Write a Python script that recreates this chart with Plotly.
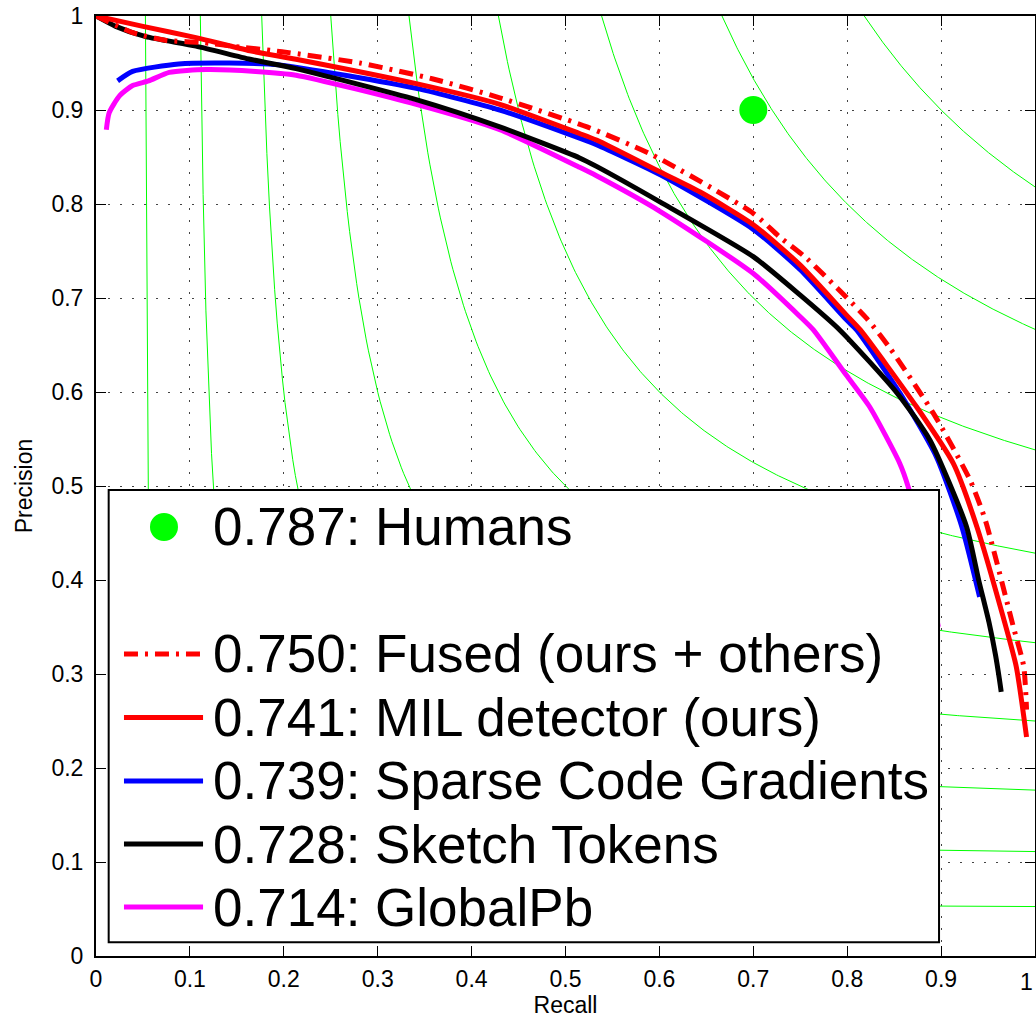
import numpy as np
import plotly.graph_objects as go

# ---------------- data ----------------
iso_f_levels = [0.1, 0.2, 0.3, 0.4, 0.5, 0.6, 0.7, 0.8, 0.9]

tick_values = [0, 0.1, 0.2, 0.3, 0.4, 0.5, 0.6, 0.7, 0.8, 0.9, 1]
tick_labels = ["0", "0.1", "0.2", "0.3", "0.4", "0.5", "0.6", "0.7", "0.8", "0.9", "1"]

human_recall = [0.70]
human_precision = [0.90]

recall_fused = [0.0, 0.04, 0.075, 0.111, 0.153, 0.198, 0.281, 0.359, 0.43, 0.523, 0.593,
                0.70, 0.728, 0.757, 0.821, 0.846, 0.892, 0.931, 0.947, 0.977, 0.988, 0.991]
precision_fused = [1.0, 0.982, 0.974, 0.972, 0.967, 0.962, 0.950, 0.933, 0.913, 0.882, 0.852,
                   0.790, 0.765, 0.742, 0.678, 0.646, 0.577, 0.506, 0.464, 0.350, 0.308, 0.262]

recall_mil = [0.0, 0.05, 0.1065, 0.164, 0.213, 0.341, 0.43, 0.515, 0.533, 0.601, 0.643,
              0.70, 0.75, 0.799, 0.814, 0.874, 0.913, 0.938, 0.966, 0.98, 0.991]
precision_mil = [1.0, 0.989, 0.977, 0.963, 0.954, 0.928, 0.906, 0.875, 0.868, 0.834, 0.813,
                 0.778, 0.735, 0.682, 0.666, 0.584, 0.524, 0.457, 0.361, 0.308, 0.233]

recall_scg = [0.023, 0.039, 0.088, 0.142, 0.195, 0.341, 0.43, 0.515, 0.533, 0.601,
              0.70, 0.75, 0.799, 0.81, 0.856, 0.895, 0.922, 0.941]
precision_scg = [0.931, 0.941, 0.949, 0.950, 0.948, 0.923, 0.900, 0.870, 0.863, 0.831,
                 0.773, 0.730, 0.677, 0.666, 0.599, 0.531, 0.457, 0.382]

recall_st = [0.0, 0.021, 0.053, 0.1065, 0.164, 0.213, 0.341, 0.43, 0.515, 0.533, 0.601,
             0.70, 0.75, 0.792, 0.853, 0.888, 0.927, 0.940, 0.951, 0.958, 0.962, 0.964]
precision_st = [1.0, 0.989, 0.978, 0.968, 0.954, 0.944, 0.911, 0.882, 0.849, 0.840, 0.802,
                0.744, 0.703, 0.666, 0.599, 0.549, 0.457, 0.400, 0.355, 0.320, 0.295, 0.281]

recall_gpb = [0.011, 0.014, 0.025, 0.039, 0.056, 0.078, 0.117, 0.17, 0.213, 0.341, 0.43,
              0.515, 0.533, 0.601, 0.70, 0.75, 0.764, 0.799, 0.824, 0.856, 0.865, 0.88, 0.897]
precision_gpb = [0.879, 0.897, 0.915, 0.926, 0.931, 0.940, 0.943, 0.941, 0.937, 0.906, 0.879,
                 0.839, 0.830, 0.792, 0.726, 0.680, 0.666, 0.618, 0.584, 0.524, 0.499, 0.44, 0.35]

legend_labels = ["0.787: Humans",
                 "0.750: Fused (ours + others)",
                 "0.741: MIL detector (ours)",
                 "0.739: Sparse Code Gradients",
                 "0.728: Sketch Tokens",
                 "0.714: GlobalPb"]

GREEN = "#00ff00"
FONT = "Liberation Sans, Arial, Helvetica, sans-serif"
FUSED_DASH = "14px,7px,3px,7px"

fig = go.Figure()

# iso-F contours
for f in iso_f_levels:
    r = np.linspace(f / (2 - f), 1.0, 300)
    p = f * r / (2 * r - f)
    fig.add_trace(go.Scatter(x=r, y=p, mode="lines", line=dict(color=GREEN, width=1),
                             hoverinfo="skip", showlegend=False))

series = [
    (recall_gpb, precision_gpb, "#ff00ff", 5, "solid", legend_labels[5]),
    (recall_scg, precision_scg, "#0000ff", 5, "solid", legend_labels[3]),
    (recall_st, precision_st, "#000000", 5, "solid", legend_labels[4]),
    (recall_mil, precision_mil, "#ff0000", 5, "solid", legend_labels[2]),
    (recall_fused, precision_fused, "#ff0000", 5, FUSED_DASH, legend_labels[1]),
]
for rx, py, col, w, dash, name in series:
    fig.add_trace(go.Scatter(x=rx, y=py, mode="lines", name=name,
                             line=dict(color=col, width=w, dash=dash, shape="spline", smoothing=0.6),
                             showlegend=False))

fig.add_trace(go.Scatter(x=human_recall, y=human_precision, mode="markers", name=legend_labels[0],
                         marker=dict(color=GREEN, size=28, line=dict(width=0)), showlegend=False))

# ---------------- hand-built legend (paper coordinates) ----------------
box = dict(x0=0.0135, x1=0.8978, y0=0.0145, y1=0.4957)
row_y = [0.4564, 0.3213, 0.2537, 0.1862, 0.1191, 0.0521]
sample_x0, sample_x1 = 0.0298, 0.1140
text_x = 0.1225
fig.add_shape(type="rect", xref="paper", yref="paper", layer="above",
              fillcolor="white", line=dict(color="black", width=2), **box)
fig.add_shape(type="circle", xref="paper", yref="paper", layer="above",
              xsizemode="pixel", ysizemode="pixel",
              xanchor=0.0724, yanchor=row_y[0], x0=-14, x1=14, y0=-14, y1=14,
              fillcolor=GREEN, line=dict(width=0))
sample_styles = [("#ff0000", 5, FUSED_DASH), ("#ff0000", 5, "solid"), ("#0000ff", 5, "solid"),
                 ("#000000", 5, "solid"), ("#ff00ff", 5, "solid")]
for (col, w, dash), yy in zip(sample_styles, row_y[1:]):
    fig.add_shape(type="line", xref="paper", yref="paper", layer="above",
                  x0=sample_x0, x1=sample_x1, y0=yy, y1=yy,
                  line=dict(color=col, width=w, dash=dash))
for lab, yy in zip(legend_labels, row_y):
    fig.add_annotation(x=text_x, y=yy, xref="paper", yref="paper", text=lab,
                       showarrow=False, xanchor="left", yanchor="middle",
                       font=dict(family=FONT, size=53, color="black"))

# last x tick label sits on the figure edge (Plotly drops it), so draw it as text
fig.add_annotation(x=tick_values[-1], y=0, xref="x", yref="paper", text=tick_labels[-1],
                   showarrow=False, xanchor="right", yanchor="top", yshift=-11,
                   font=dict(family=FONT, size=23, color="black"))

axis_common = dict(range=[0, 1], tickmode="array", tickvals=tick_values, ticktext=tick_labels,
                   showline=True, linewidth=2, linecolor="black",
                   mirror="ticks", ticks="inside", ticklen=10, tickwidth=1, tickcolor="black",
                   showgrid=True, gridcolor="#444444", griddash="2px,10px", gridwidth=1,
                   zeroline=False, automargin=False,
                   tickfont=dict(family=FONT, size=23, color="black"))

fig.update_layout(
    width=1036, height=1022,
    margin=dict(l=96, r=1, t=16, b=66),
    paper_bgcolor="white", plot_bgcolor="white",
    showlegend=False,
    xaxis=dict(axis_common, title=dict(text="Recall", font=dict(family=FONT, size=23, color="black"), standoff=6),
               ticklabelstandoff=1),
    yaxis=dict(axis_common, title=dict(text="Precision", font=dict(family=FONT, size=23, color="black"), standoff=12),
               ticklabelstandoff=6),
)

fig.write_html("out.html")
